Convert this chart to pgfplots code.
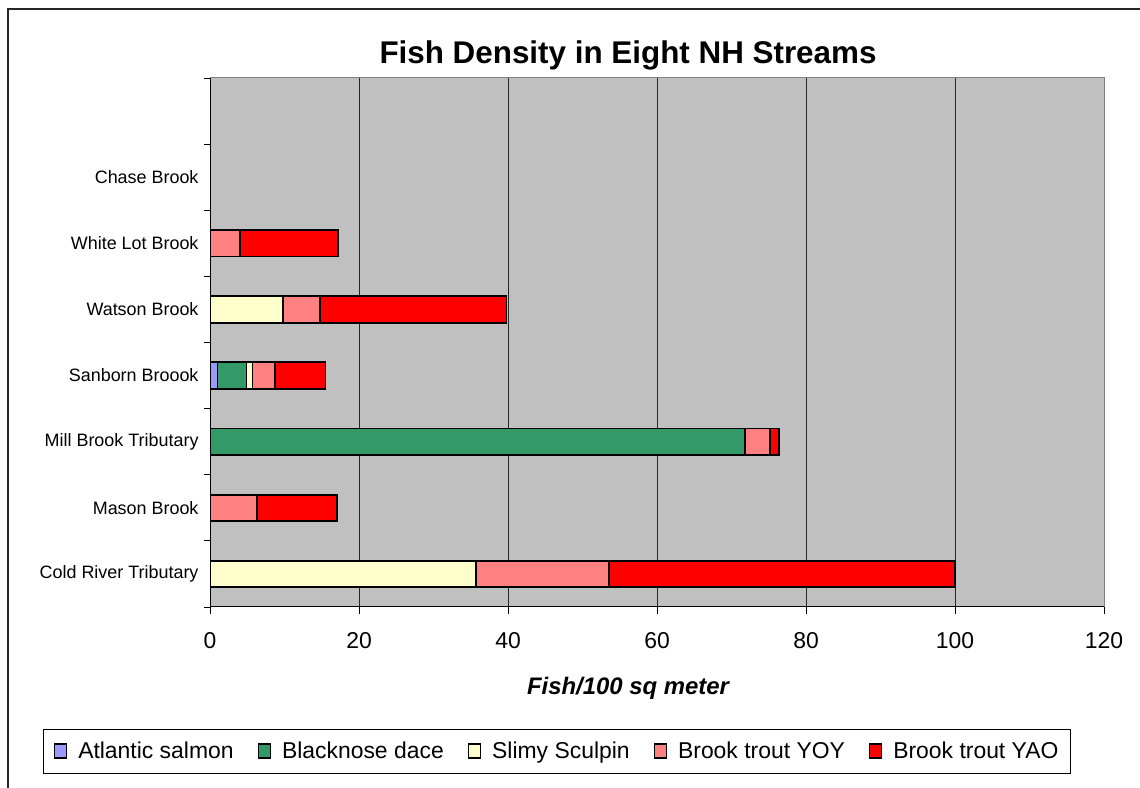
\documentclass[border=0pt]{standalone}
\usepackage{pgfplots}
\pgfplotsset{compat=1.18}
\usepackage{pgfplotstable}
\usepackage{fontspec}
\setmainfont{Liberation Sans}
\definecolor{csalmon}{HTML}{9999FF}
\definecolor{cdace}{HTML}{339966}
\definecolor{csculpin}{HTML}{FFFFCC}
\definecolor{cyoy}{HTML}{FF8080}
\definecolor{cyao}{HTML}{FF0000}
\definecolor{cbg}{HTML}{C0C0C0}
\definecolor{cborder}{HTML}{808080}

\pgfplotstableread{
y salmon dace sculpin yoy yao
0 0 0 35.7 17.9 46.4
1 0 0 0 6.3 10.7
2 0 71.8 0 3.4 1.2
3 1.0 3.9 0.8 3.05 6.75
4 0 0 9.8 5.0 25.0
5 0 0 0 4.0 13.2
6 0 0 0 0 0
}\fishdata

\begin{document}
\begin{tikzpicture}[x=1bp,y=1bp]
\path[use as bounding box] (0,0) rectangle (1140,788);
\draw[line width=1.3bp, black!85] (8,0) -- (8,779) -- (1140,779);
\begin{axis}[
  at={(210bp,181bp)}, anchor=south west,
  scale only axis, width=894bp, height=529bp,
  xbar stacked, bar width=26.4bp,
  xmin=0, xmax=120, xtick={0,20,...,120},
  ymin=-0.5, ymax=7.5,
  ytick={0,...,6},
  yticklabels={Cold River Tributary,Mason Brook,Mill Brook Tributary,Sanborn Broook,Watson Brook,White Lot Brook,Chase Brook},
  minor ytick={-0.5,0.5,...,7.5},
  xtick pos=bottom, ytick pos=left,
  major y tick style={draw=none},
  minor y tick style={black, line width=0.8bp},
  major x tick style={black, line width=0.8bp},
  tick align=outside,
  major tick length=7bp, minor tick length=6bp,
  xmajorgrids, major x grid style={black!85, line width=0.8bp},
  axis background/.style={fill=cbg},
  axis line style={cborder, line width=1bp},
  /pgf/number format/assume math mode=true,
  xticklabel style={font=\fontsize{23}{23}\selectfont, yshift=-15bp},
  yticklabel style={font=\fontsize{18}{18}\selectfont, xshift=-1bp},
  every axis plot/.append style={draw=black, line width=1.8bp},
  legend columns=5,
  legend style={at={(0.3883,-0.2722)}, anchor=center, draw=black, line width=0.8bp,
    font=\fontsize{23}{23}\selectfont, inner xsep=10bp, inner ysep=11bp,
    /tikz/every odd column/.append style={column sep=9bp},
    /tikz/every even column/.append style={column sep=22bp}},
  legend image code/.code={\draw[#1,line width=1.4bp] (0bp,-7bp) rectangle (12bp,7bp);},
]
\addplot[fill=csalmon] table[x=salmon,y=y] {\fishdata};
\addplot[fill=cdace] table[x=dace,y=y] {\fishdata};
\addplot[fill=csculpin] table[x=sculpin,y=y] {\fishdata};
\addplot[fill=cyoy] table[x=yoy,y=y] {\fishdata};
\addplot[fill=cyao] table[x=yao,y=y] {\fishdata};
\legend{Atlantic salmon,Blacknose dace,Slimy Sculpin,Brook trout YOY,Brook trout YAO}
\draw[black, line width=1.2bp] (rel axis cs:0,1) -- (rel axis cs:0,0) -- (rel axis cs:1,0);
\end{axis}
\node[font=\bfseries\fontsize{31.5}{31.5}\selectfont] at (628,733) {Fish Density in Eight NH Streams};
\node[font=\bfseries\itshape\fontsize{24}{24}\selectfont] at (628,100) {Fish/100 sq meter};
\end{tikzpicture}
\end{document}
